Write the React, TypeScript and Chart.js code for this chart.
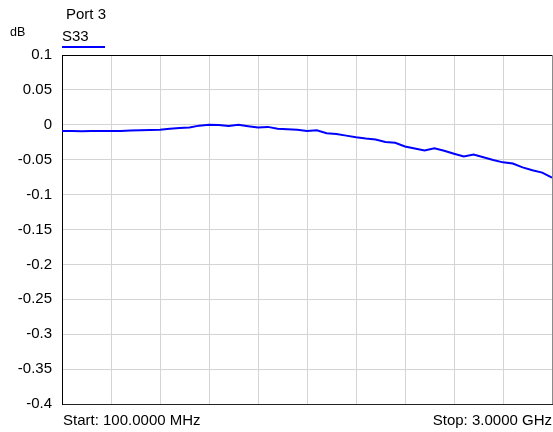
import React, { useEffect, useRef } from "react";
import Chart from "chart.js/auto";

// Sweep: 100 MHz to 3 GHz, 51 read points (evenly spaced)
const startMHz = 100;
const stopMHz = 3000;
const s33dB = [
  -0.0090, -0.0088, -0.0091, -0.0089, -0.0090, -0.0088, -0.0089, -0.0080, -0.0078, -0.0075,
  -0.0070, -0.0055, -0.0045, -0.0038, -0.0012, 0.0002, -0.0003, -0.0018, 0.0000, -0.0020,
  -0.0040, -0.0030, -0.0058, -0.0065, -0.0072, -0.0088, -0.0078, -0.0120, -0.0132, -0.0155,
  -0.0178, -0.0196, -0.0210, -0.0245, -0.0258, -0.0310, -0.0340, -0.0368, -0.0335, -0.0372,
  -0.0415, -0.0455, -0.0425, -0.0465, -0.0505, -0.0538, -0.0555, -0.0610, -0.0650, -0.0685,
  -0.0758,
];
const yMin = -0.4;
const yMax = 0.1;
const yStep = 0.05;
const xDivisions = 10;
const titleText = "Port 3";
const traceName = "S33";
const unitText = "dB";
const startLabel = "Start: 100.0000 MHz";
const stopLabel = "Stop: 3.0000 GHz";

const FONT = '"Liberation Sans", Arial, sans-serif';

export default function App() {
  const ref = useRef<HTMLCanvasElement | null>(null);
  useEffect(() => {
    document.body.style.margin = "0";
    const canvas = ref.current!;
    const n = s33dB.length;
    const points = s33dB.map((v, i) => ({
      x: startMHz + ((stopMHz - startMHz) * i) / (n - 1),
      y: v,
    }));
    const gridX: number[] = [];
    for (let i = 0; i <= xDivisions; i++) gridX.push(startMHz + ((stopMHz - startMHz) * i) / xDivisions);

    const textPlugin = {
      id: "texts",
      afterDraw(chart: any) {
        const ctx = chart.ctx as CanvasRenderingContext2D;
        const a = chart.chartArea;
        ctx.save();
        ctx.fillStyle = "#000";
        ctx.textBaseline = "middle";
        ctx.textAlign = "left";
        ctx.font = `12.5px ${FONT}`;
        ctx.fillText(unitText, 10, 33);
        ctx.font = `15px ${FONT}`;
        ctx.fillText(titleText, 66, 15);
        ctx.fillText(traceName, 62, 37);
        ctx.fillText(startLabel, a.left + 1, 421);
        ctx.textAlign = "right";
        ctx.fillText(stopLabel, a.right, 421);
        ctx.strokeStyle = "#0000ff";
        ctx.lineWidth = 2;
        ctx.beginPath();
        ctx.moveTo(62, 47);
        ctx.lineTo(105, 47);
        ctx.stroke();
        ctx.restore();
      },
    };

    const chart = new Chart(canvas, {
      type: "line",
      data: {
        datasets: [
          {
            data: points,
            borderColor: "#0000ff",
            borderWidth: 2,
            pointRadius: 0,
            tension: 0,
          },
        ],
      },
      options: {
        animation: false,
        responsive: false,
        parsing: false,
        layout: { padding: { top: 55, right: 1, bottom: 28, left: 0 } },
        plugins: { legend: { display: false }, tooltip: { enabled: false } },
        scales: {
          x: {
            type: "linear",
            min: startMHz,
            max: stopMHz,
            afterBuildTicks: (s: any) => {
              s.ticks = gridX.map((v) => ({ value: v }));
            },
            afterFit: (s: any) => {
              s.height = 0;
            },
            ticks: { display: false },
            grid: {
              drawTicks: false,
              color: (c: any) => (c.index === xDivisions ? "#8a8a8a" : "#d4d4d4"),
              lineWidth: 1,
            },
            border: { color: "#222", width: 1 },
          },
          y: {
            min: yMin,
            max: yMax,
            ticks: {
              stepSize: yStep,
              padding: 10,
              color: "#000",
              font: { size: 15, family: FONT },
              callback: (v: any) => String(Number(Number(v).toFixed(2))),
            },
            afterFit: (s: any) => {
              s.width = 62;
            },
            grid: {
              drawTicks: false,
              color: (c: any) => (c.tick && Math.abs(c.tick.value - yMax) < 1e-9 ? "#000" : "#d4d4d4"),
              lineWidth: 1,
            },
            border: { color: "#000", width: 1 },
          },
        },
      },
      plugins: [textPlugin],
    });
    return () => chart.destroy();
  }, []);
  return <canvas ref={ref} width={553} height={432} style={{ display: "block", width: 553, height: 432 }} />;
}
